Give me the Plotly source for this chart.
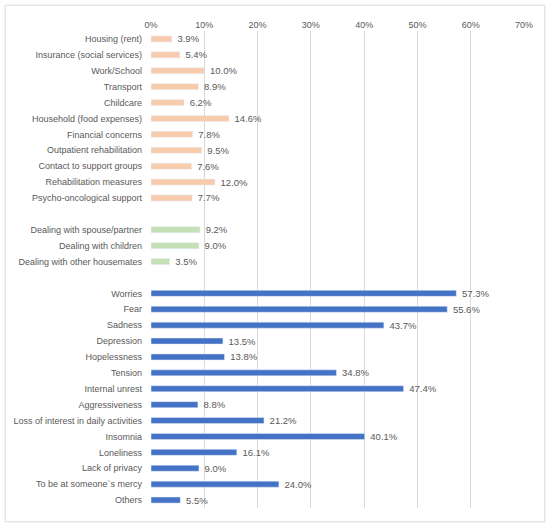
import plotly.graph_objects as go

practical_labels = ["Housing (rent)", "Insurance (social services)", "Work/School", "Transport",
                    "Childcare", "Household (food expenses)", "Financial concerns",
                    "Outpatient rehabilitation", "Contact to support groups",
                    "Rehabilitation measures", "Psycho-oncological support"]
practical_values = [3.9, 5.4, 10.0, 8.9, 6.2, 14.6, 7.8, 9.5, 7.6, 12.0, 7.7]

family_labels = ["Dealing with spouse/partner", "Dealing with children", "Dealing with other housemates"]
family_values = [9.2, 9.0, 3.5]

emotional_labels = ["Worries", "Fear", "Sadness", "Depression", "Hopelessness", "Tension",
                    "Internal unrest", "Aggressiveness", "Loss of interest in daily activities",
                    "Insomnia", "Loneliness", "Lack of privacy", "To be at someone`s mercy", "Others"]
emotional_values = [57.3, 55.6, 43.7, 13.5, 13.8, 34.8, 47.4, 8.8, 21.2, 40.1, 16.1, 9.0, 24.0, 5.5]

gap1, gap2 = " ", "  "
category_order = practical_labels + [gap1] + family_labels + [gap2] + emotional_labels

x_ticks = [0, 10, 20, 30, 40, 50, 60, 70]

FONT = "Liberation Sans"
fig = go.Figure()
for labels, values, color in [(practical_labels, practical_values, "#F8CBAD"),
                              (family_labels, family_values, "#C5E0B4"),
                              (emotional_labels, emotional_values, "#4472C4")]:
    fig.add_trace(go.Bar(
        y=labels, x=values, orientation="h", marker_color=color, width=0.38,
        text=[f"\u00a0{v:.1f}%" for v in values], textposition="outside", constraintext="none",
        textfont=dict(family=FONT, size=9.5, color="#595959"), cliponaxis=False,
        showlegend=False, hoverinfo="skip"))

fig.update_layout(
    width=550, height=528, barmode="overlay",
    margin=dict(l=151, r=26, t=31, b=20),
    paper_bgcolor="white", plot_bgcolor="white",
    font=dict(family=FONT, size=9, color="#595959"),
    xaxis=dict(side="top", range=[0, 70], tickvals=x_ticks,
               ticktext=[f"{t}%" for t in x_ticks], showgrid=True,
               gridcolor="#D9D9D9", gridwidth=1, zeroline=False, showline=False,
               ticks="", tickfont=dict(family=FONT, size=9, color="#595959")),
    yaxis=dict(type="category", categoryorder="array", categoryarray=category_order,
               autorange="reversed", showgrid=False, zeroline=False, showline=False,
               ticks="", ticklabelstandoff=8,
               tickfont=dict(family=FONT, size=9, color="#595959")),
)
fig.add_shape(type="rect", xref="paper", yref="paper",
              x0=-0.391, x1=1.056, y0=-0.029, y1=1.054,
              line=dict(color="#D9D9D9", width=1), fillcolor="rgba(0,0,0,0)", layer="below")

fig.write_html("out.html", config={"displayModeBar": False},
               post_script="document.body.style.margin='0';")
